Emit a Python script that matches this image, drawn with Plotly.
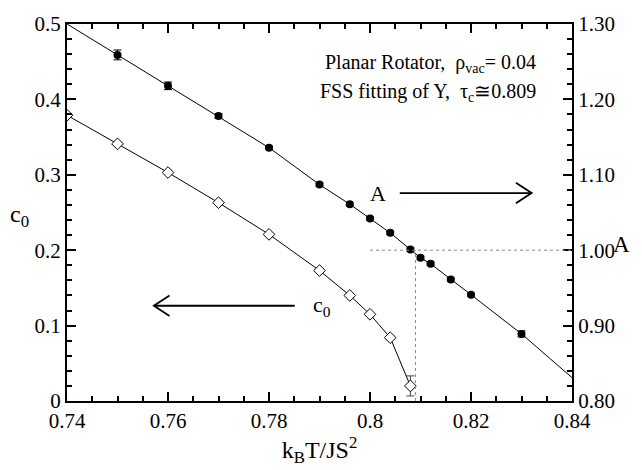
import plotly.graph_objects as go

# ---- data ----
T_A = [0.75, 0.76, 0.77, 0.78, 0.79, 0.796, 0.80, 0.804, 0.808, 0.81, 0.812, 0.816, 0.82, 0.83]
A_vals = [1.259, 1.218, 1.178, 1.136, 1.087, 1.061, 1.042, 1.023, 1.001, 0.990, 0.982, 0.961, 0.941, 0.889]
A_err = [0.0065, 0.005, 0.003, 0.002, 0.002, 0.002, 0.002, 0.002, 0.002, 0.002, 0.002, 0.002, 0.002, 0.004]

T_fit = [0.74] + T_A + [0.84]
A_fit = [1.300] + A_vals + [0.831]

T_c0 = [0.74, 0.75, 0.76, 0.77, 0.78, 0.79, 0.796, 0.80, 0.804, 0.808]
c0_vals = [0.379, 0.341, 0.303, 0.263, 0.221, 0.173, 0.140, 0.115, 0.084, 0.020]
c0_err = [0.002, 0.002, 0.002, 0.002, 0.002, 0.002, 0.002, 0.002, 0.002, 0.0133]

x_ticks = [0.74, 0.76, 0.78, 0.80, 0.82, 0.84]
x_ticktext = ["0.74", "0.76", "0.78", "0.8", "0.82", "0.84"]
y_ticks = [0, 0.1, 0.2, 0.3, 0.4, 0.5]
y_ticktext = ["0", "0.1", "0.2", "0.3", "0.4", "0.5"]
y2_ticks = [0.8, 0.9, 1.0, 1.1, 1.2, 1.3]
y2_ticktext = ["0.80", "0.90", "1.00", "1.10", "1.20", "1.30"]

tau_c = 0.809
A_c = 1.00

FONT = "Liberation Serif"

fig = go.Figure()

fig.add_trace(go.Scatter(x=T_fit, y=A_fit, mode="lines", yaxis="y2",
                         line=dict(color="black", width=1), showlegend=False, hoverinfo="skip"))
fig.add_trace(go.Scatter(x=T_A, y=A_vals, mode="markers", yaxis="y2",
                         marker=dict(symbol="circle", size=8, color="black"),
                         error_y=dict(type="data", array=A_err, visible=True, color="black",
                                      thickness=1, width=4),
                         showlegend=False))
fig.add_trace(go.Scatter(x=T_c0, y=c0_vals, mode="lines+markers", yaxis="y",
                         line=dict(color="black", width=1),
                         marker=dict(symbol="diamond", size=9, color="white",
                                     line=dict(color="black", width=1)),
                         error_y=dict(type="data", array=c0_err, visible=True, color="#444",
                                      thickness=1, width=4),
                         showlegend=False))

# dotted reference lines
fig.add_shape(type="line", xref="x", yref="y2", x0=0.80, x1=0.84, y0=A_c, y1=A_c,
              line=dict(color="#888", width=1, dash="dot"))
fig.add_shape(type="line", xref="x", yref="y2", x0=tau_c, x1=tau_c, y0=0.80, y1=A_c,
              line=dict(color="#888", width=1, dash="dot"))

# arrows (open chevron heads)
ay = 0.2758
fig.add_shape(type="line", xref="x", yref="y", x0=0.8059, x1=0.8320, y0=ay, y1=ay,
              line=dict(color="black", width=1.8))
fig.add_shape(type="path", xref="x", yref="y",
              path=f"M {0.8320-0.0031} {ay+0.0135} L 0.8320 {ay} L {0.8320-0.0031} {ay-0.0135}",
              line=dict(color="black", width=1.8))
cy = 0.1263
fig.add_shape(type="line", xref="x", yref="y", x0=0.7572, x1=0.7851, y0=cy, y1=cy,
              line=dict(color="black", width=1.8))
fig.add_shape(type="path", xref="x", yref="y",
              path=f"M {0.7572+0.0031} {cy+0.0135} L 0.7572 {cy} L {0.7572+0.0031} {cy-0.0135}",
              line=dict(color="black", width=1.8))

tf = dict(family=FONT, size=21, color="black")
ann = []
ann.append(dict(x=0.8015, y=ay, xref="x", yref="y", text="A", showarrow=False,
                font=dict(family=FONT, size=22, color="black"), xanchor="center", yanchor="middle"))
ann.append(dict(x=0.7884, y=cy, xref="x", yref="y", text="c<sub>0</sub>", showarrow=False,
                font=dict(family=FONT, size=22, color="black"), xanchor="left", yanchor="middle"))
ann.append(dict(x=0.9327, y=0.894, xref="paper", yref="paper",
                text="Planar Rotator,  ρ<sub>vac</sub>= 0.04", showarrow=False,
                font=dict(family=FONT, size=20, color="black"), xanchor="right", yanchor="middle"))
ann.append(dict(x=0.9327, y=0.817, xref="paper", yref="paper",
                text="FSS fitting of Y,  τ<sub>c</sub>≅0.809", showarrow=False,
                font=dict(family=FONT, size=20, color="black"), xanchor="right", yanchor="middle"))
ann.append(dict(x=-0.095, y=0.492, xref="paper", yref="paper", text="c<sub>0</sub>",
                showarrow=False, font=dict(family=FONT, size=24, color="black"),
                xanchor="center", yanchor="middle"))
ann.append(dict(x=1.099, y=0.415, xref="paper", yref="paper", text="A",
                showarrow=False, font=dict(family=FONT, size=23, color="black"),
                xanchor="center", yanchor="middle"))

axis_common = dict(showgrid=False, zeroline=False, showline=True, linecolor="black",
                   linewidth=2, ticks="inside", ticklen=9, tickwidth=1.5, tickcolor="black",
                   tickfont=tf)

fig.update_layout(
    width=642, height=470,
    margin=dict(l=67, r=70, t=16, b=66),
    paper_bgcolor="white", plot_bgcolor="white",
    font=dict(family=FONT, color="black"),
    xaxis=dict(range=[0.74, 0.84], tickmode="array", tickvals=x_ticks, ticktext=x_ticktext,
               mirror="ticks",
               minor=dict(ticks="inside", ticklen=5, tickwidth=1.5, tickcolor="black",
                          dtick=0.005, tick0=0.74),
               title=dict(text="k<sub>B</sub>T/JS<sup>2</sup>",
                          font=dict(family=FONT, size=24, color="black"), standoff=8),
               **axis_common),
    yaxis=dict(range=[0, 0.5], tickmode="array", tickvals=y_ticks, ticktext=y_ticktext,
               minor=dict(ticks="inside", ticklen=5, tickwidth=1.5, tickcolor="black",
                          dtick=0.02, tick0=0),
               **axis_common),
    yaxis2=dict(range=[0.8, 1.3], overlaying="y", side="right", tickmode="array",
                tickvals=y2_ticks, ticktext=y2_ticktext,
                minor=dict(ticks="inside", ticklen=5, tickwidth=1.5, tickcolor="black",
                           dtick=0.02, tick0=0.8),
                **axis_common),
    annotations=ann,
)

fig.write_html("out.html")
